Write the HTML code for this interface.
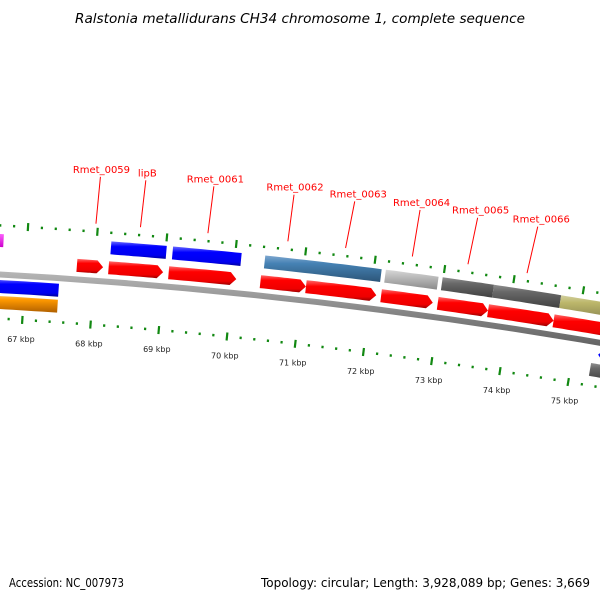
<!DOCTYPE html>
<html><head><meta charset="utf-8"><style>
html,body{margin:0;padding:0;background:#fff;}
svg{display:block;}
</style></head><body>
<svg id="map" width="600" height="600" viewBox="0 0 600 600" xmlns="http://www.w3.org/2000/svg">
<defs>
<linearGradient id="gRed" x1="0" y1="0" x2="0" y2="1"><stop offset="0" stop-color="#ff6a6a"/><stop offset="0.3" stop-color="#ff0000"/><stop offset="0.8" stop-color="#ee0000"/><stop offset="1" stop-color="#990000"/></linearGradient>
<linearGradient id="gBlue" x1="0" y1="0" x2="0" y2="1"><stop offset="0" stop-color="#6a6aff"/><stop offset="0.3" stop-color="#0000ff"/><stop offset="0.8" stop-color="#0000ee"/><stop offset="1" stop-color="#000099"/></linearGradient>
<linearGradient id="gSteel" x1="0" y1="0" x2="0" y2="1"><stop offset="0" stop-color="#7fa8d0"/><stop offset="0.3" stop-color="#4682b4"/><stop offset="1" stop-color="#2c5578"/></linearGradient>
<linearGradient id="gSilver" x1="0" y1="0" x2="0" y2="1"><stop offset="0" stop-color="#d8d8d8"/><stop offset="0.3" stop-color="#c0c0c0"/><stop offset="1" stop-color="#8a8a8a"/></linearGradient>
<linearGradient id="gDim" x1="0" y1="0" x2="0" y2="1"><stop offset="0" stop-color="#909090"/><stop offset="0.3" stop-color="#696969"/><stop offset="1" stop-color="#404040"/></linearGradient>
<linearGradient id="gKhaki" x1="0" y1="0" x2="0" y2="1"><stop offset="0" stop-color="#d2d0a0"/><stop offset="0.3" stop-color="#bdb76b"/><stop offset="1" stop-color="#8a8650"/></linearGradient>
<linearGradient id="gOrange" x1="0" y1="0" x2="0" y2="1"><stop offset="0" stop-color="#ffc060"/><stop offset="0.3" stop-color="#ff9900"/><stop offset="1" stop-color="#b06000"/></linearGradient>
<linearGradient id="gMag" x1="0" y1="0" x2="0" y2="1"><stop offset="0" stop-color="#ff66ff"/><stop offset="1" stop-color="#cc00cc"/></linearGradient>
<linearGradient id="gBack" x1="0" y1="0" x2="0" y2="1"><stop offset="0" stop-color="#bbbbbb"/><stop offset="0.5" stop-color="#808080"/><stop offset="1" stop-color="#505050"/></linearGradient>
</defs>
<text x="300" y="23" text-anchor="middle" font-family="DejaVu Sans, sans-serif" font-style="italic" font-size="13" textLength="450" lengthAdjust="spacingAndGlyphs">Ralstonia metallidurans CH34 chromosome 1, complete sequence</text>
<g id="layer"></g>
<text x="9" y="587" font-family="DejaVu Sans, sans-serif" font-size="12" textLength="115" lengthAdjust="spacingAndGlyphs">Accession: NC_007973</text>
<text x="590" y="587" text-anchor="end" font-family="DejaVu Sans, sans-serif" font-size="12" textLength="329" lengthAdjust="spacingAndGlyphs">Topology: circular; Length: 3,928,089 bp; Genes: 3,669</text>
</svg>
<script>
// ---- data (kbp) ----
const tickStart = 66.4;
const tickEnd = 76.0;
const kbpLabels = [67, 68, 69, 70, 71, 72, 73, 74, 75];
const fwdStarts = [67.74, 68.20, 69.07, 70.40, 71.06, 72.15, 72.97, 73.70, 74.65];
const fwdEnds   = [68.12, 68.99, 70.05, 71.06, 72.08, 72.90, 73.70, 74.65, 75.60];
const catStarts = [66.40, 68.21, 69.10, 70.43, 72.17, 72.99, 73.73, 74.70];
const catEnds   = [66.66, 69.01, 70.09, 72.11, 72.93, 73.73, 74.70, 75.70];
const catColors = ['gMag','gBlue','gBlue','gSteel','gSilver','gDim','gDim','gKhaki'];
const catOffset = [-34, -34, -34, -34, -34, -34, -34, -34];
const revStarts = [66.20, 66.20, 75.36, 75.28];
const revEnds   = [67.50, 67.50, 75.70, 75.70];
const revColors = ['gBlue','gOrange','gBlue','gDim'];
const revOffset = [12, 28, 12, 28];
const revArrow  = [true, false, true, false];
const geneNames = ['Rmet_0059','lipB','Rmet_0061','Rmet_0062','Rmet_0063','Rmet_0064','Rmet_0065','Rmet_0066'];
const geneKbp   = [67.97, 68.61, 69.58, 70.73, 71.56, 72.52, 73.32, 74.17];
const nameDx    = [2, 3, 3, 2, 7, 3, 6, 7];

// ---- geometry ----
function kx(k){ return 25 + 68.8*(k-67); }
function by(x){ return 274.5 + 0.0567*x + 0.95e-4*x*x; }
function pt(k, off){
  const x = kx(k), s = 0.0567 + 1.9e-4*x, n = Math.sqrt(1+s*s);
  return [x - off*s/n, by(x) + off/n];
}
const layer = document.getElementById('layer');
const NS = 'http://www.w3.org/2000/svg';
function mk(tag){ return document.createElementNS(NS, tag); }
function band(k0, k1, off, h, arrowDir){
  const pts = [], steps = 12, head = 6/68.8;
  let a = k0, b = k1;
  if (arrowDir > 0) b = Math.max(k0, k1 - head);
  if (arrowDir < 0) a = Math.min(k1, k0 + head);
  for (let i=0;i<=steps;i++){ const k=a+(b-a)*i/steps; pts.push(pt(k, off-h/2)); }
  if (arrowDir > 0) pts.push(pt(k1, off));
  for (let i=steps;i>=0;i--){ const k=a+(b-a)*i/steps; pts.push(pt(k, off+h/2)); }
  if (arrowDir < 0) pts.push(pt(k0, off));
  return pts.map(p=>p[0].toFixed(1)+','+p[1].toFixed(1)).join(' ');
}

// backbone
const bb = mk('polygon');


bb.setAttribute('points', band(65.5, 77, 0, 6, 0));
bb.setAttribute('fill', 'url(#gBack)');
layer.appendChild(bb);

// ticks
for (let i=0; ; i++){
  const k = Math.round((tickStart + 0.2*i)*10)/10;
  if (k > tickEnd) break;
  const major = Math.abs(k - Math.round(k)) < 1e-6;
  [[-49, 'upper'], [44, 'lower']].forEach(([off, nm])=>{
    const len = major ? 8 : 2.5;
    const p0 = pt(k, off - len/2), p1 = pt(k, off + len/2);
    const t = mk('line');
    
    
    t.setAttribute('x1', p0[0]); t.setAttribute('y1', p0[1]);
    t.setAttribute('x2', p1[0]); t.setAttribute('y2', p1[1]);
    t.setAttribute('stroke', '#118811');
    t.setAttribute('stroke-width', '2.2');
    layer.appendChild(t);
  });
}
kbpLabels.forEach(k=>{
  const p = pt(k, 66);
  const t = mk('text');
  
  
  t.setAttribute('x', p[0]); t.setAttribute('y', p[1]);
  t.setAttribute('text-anchor', 'middle');
  t.setAttribute('font-family', 'DejaVu Sans, sans-serif');
  t.setAttribute('font-size', '8');
  t.setAttribute('fill', '#222');
  t.textContent = k + ' kbp';
  layer.appendChild(t);
});

// feature bands
catStarts.forEach((s,i)=>{
  const g = mk('polygon');
  
  
  g.setAttribute('points', band(s, catEnds[i], catOffset[i], 13, 0));
  g.setAttribute('fill', 'url(#' + catColors[i] + ')');
  layer.appendChild(g);
});
fwdStarts.forEach((s,i)=>{
  const g = mk('polygon');
  
  
  g.setAttribute('points', band(s, fwdEnds[i], -14, 13, 1));
  g.setAttribute('fill', 'url(#gRed)');
  layer.appendChild(g);
});
revStarts.forEach((s,i)=>{
  const g = mk('polygon');
  
  
  g.setAttribute('points', band(s, revEnds[i], revOffset[i], 13, revArrow[i] ? -1 : 0));
  g.setAttribute('fill', 'url(#' + revColors[i] + ')');
  layer.appendChild(g);
});

// gene labels
geneNames.forEach((n,i)=>{
  const p0 = pt(geneKbp[i], -57), p1 = pt(geneKbp[i], -104);
  const l = mk('line');
  
  
  l.setAttribute('x1', p0[0]); l.setAttribute('y1', p0[1]);
  l.setAttribute('x2', p1[0] + nameDx[i]*0.5); l.setAttribute('y2', p1[1]);
  l.setAttribute('stroke', '#ff0000');
  l.setAttribute('stroke-width', '1');
  layer.appendChild(l);
  const t = mk('text');
  
  
  t.setAttribute('x', p1[0] + nameDx[i]); t.setAttribute('y', p1[1] - 4);
  t.setAttribute('text-anchor', 'middle');
  t.setAttribute('font-family', 'DejaVu Sans, sans-serif');
  t.setAttribute('font-size', '10');
  t.setAttribute('fill', '#ff0000');
  t.textContent = n;
  layer.appendChild(t);
});
</script>
</body></html>
